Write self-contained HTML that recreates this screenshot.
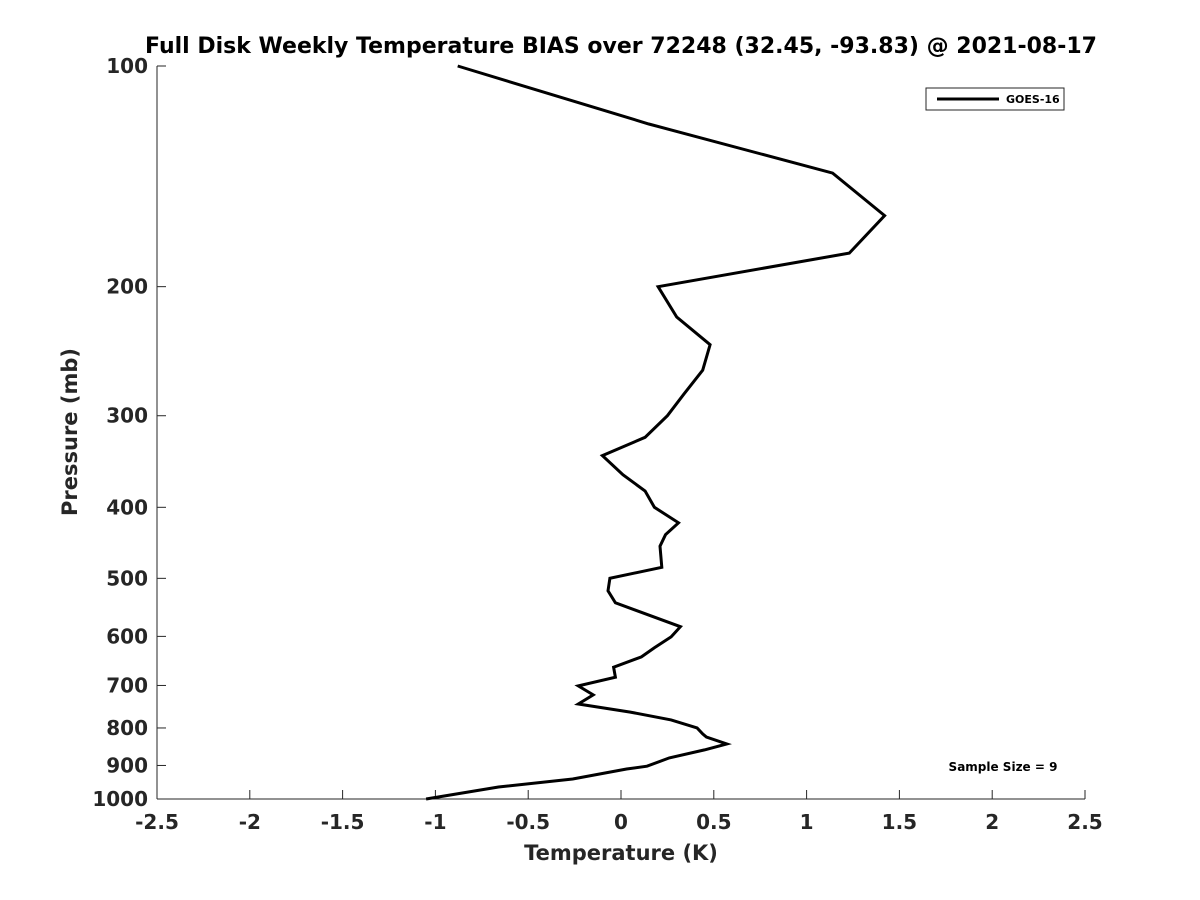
<!DOCTYPE html>
<html><head><meta charset="utf-8"><style>
html,body{margin:0;padding:0;background:#fff;}
svg{display:block;font-family:"DejaVu Sans","Liberation Sans",sans-serif;}
</style></head><body>
<svg id="chart" width="1200" height="900" viewBox="0 0 1200 900">
<rect width="1200" height="900" fill="#fff"/>
<text x="621" y="53" text-anchor="middle" font-size="22" font-weight="bold">Full Disk Weekly Temperature BIAS over 72248 (32.45, -93.83) @ 2021-08-17</text>
<g id="axes"></g>
<g id="series"></g>
<text x="621" y="860" text-anchor="middle" font-size="21" font-weight="bold" fill="#262626">Temperature (K)</text>
<text transform="translate(77,432) rotate(-90)" text-anchor="middle" font-size="21" font-weight="bold" fill="#262626">Pressure (mb)</text>
<g>
<rect x="926" y="88" width="138" height="22" fill="#fff" stroke="#262626" stroke-width="1"/>
<line x1="937" y1="99" x2="999" y2="99" stroke="#000" stroke-width="3"/>
<text x="1006" y="103" font-size="11" font-weight="bold">GOES-16</text>
</g>
<text x="1003" y="771" text-anchor="middle" font-size="12" font-weight="bold">Sample Size = 9</text>
</svg>
<script>
const xTicks = [-2.5,-2,-1.5,-1,-0.5,0,0.5,1,1.5,2,2.5];
const yTicks = [100,200,300,400,500,600,700,800,900,1000];
const temps = [-0.88,0.15,1.14,1.42,1.23,0.20,0.30,0.48,0.44,0.34,0.25,0.13,-0.10,0.01,0.13,0.18,0.31,0.24,0.21,0.22,-0.06,-0.07,-0.03,0.32,0.27,0.18,0.11,-0.04,-0.03,-0.23,-0.15,-0.23,0.05,0.27,0.41,0.44,0.46,0.57,0.45,0.26,0.14,0.03,-0.26,-0.66,-1.05];
const pressures = [100,120,140,160,180,200,220,240,260,280,300,321,340,361,380,400,420,436,452,483,500,520,540,582,601,622,640,661,682,701,721,742,761,780,800,815,823,841,857,879,902,910,939,963,1000];
const X0=157,X1=1085,Y0=66,Y1=799;
function xs(t){return X0+(t+2.5)/5*(X1-X0);}
function ys(p){return Y0+Math.log10(p/100)*(Y1-Y0);}
const NS="http://www.w3.org/2000/svg";
const axes=document.getElementById('axes');
function mk(tag,attrs,parent){const e=document.createElementNS(NS,tag);for(const k in attrs)e.setAttribute(k,attrs[k]);parent.appendChild(e);return e;}
let e=mk('line',{x1:X0,y1:Y1,x2:X1,y2:Y1,stroke:'#262626','stroke-width':1},axes);


e=mk('line',{x1:X0,y1:Y0,x2:X0,y2:Y1,stroke:'#262626','stroke-width':1},axes);


xTicks.forEach(t=>{
  const x=xs(t);
  let l=mk('line',{x1:x,y1:Y1,x2:x,y2:Y1-9,stroke:'#262626','stroke-width':1},axes);
  
  
  let tx=mk('text',{x:x,y:Y1+30,'text-anchor':'middle','font-size':20,'font-weight':'bold',fill:'#262626'},axes);
  tx.textContent=String(t);
  
  
});
yTicks.forEach(p=>{
  const y=ys(p);
  let l=mk('line',{x1:X0,y1:y,x2:X0+9,y2:y,stroke:'#262626','stroke-width':1},axes);
  
  
  let tx=mk('text',{x:X0-9,y:y+7,'text-anchor':'end','font-size':20,'font-weight':'bold',fill:'#262626'},axes);
  tx.textContent=String(p);
  
  
});
const pts=temps.map((t,i)=>xs(t).toFixed(1)+','+ys(pressures[i]).toFixed(1)).join(' ');
const line=mk('polyline',{points:pts,fill:'none',stroke:'#000','stroke-width':3,'stroke-linejoin':'miter'},document.getElementById('series'));


</script>
</body></html>
